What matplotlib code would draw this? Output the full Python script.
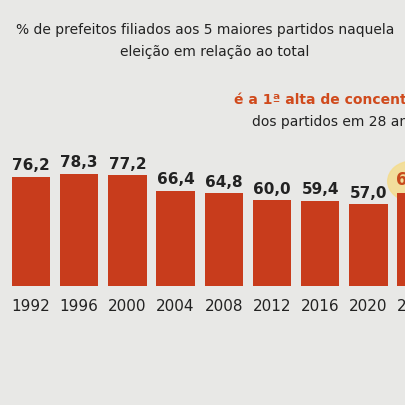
import matplotlib.pyplot as plt
from matplotlib.patches import Ellipse

years = ["1992", "1996", "2000", "2004", "2008", "2012", "2016", "2020", "2024"]
values = [76.2, 78.3, 77.2, 66.4, 64.8, 60.0, 59.4, 57.0, 65.0]
labels = ["76,2", "78,3", "77,2", "66,4", "64,8", "60,0", "59,4", "57,0", "65,0"]

bar_color = "#c83c1c"
bg = "#e8e8e6"

fig = plt.figure(figsize=(4.06, 4.06), dpi=100, facecolor=bg)
ax = fig.add_axes([0, 0.293, 1, 0.707])
ax.set_facecolor(bg)
x = list(range(len(years)))
ax.bar(x, values, width=0.8, color=bar_color, zorder=2)
ax.set_xlim(-0.643, 7.78)
ax.set_ylim(0, 200)
ax.axis("off")

for i, (v, lab) in enumerate(zip(values, labels)):
    if i == len(values) - 1:
        ax.add_patch(Ellipse((i - 0.1, v + 8), 1.0, 28, color="#f5dc8a", alpha=0.8, zorder=1))
        ax.text(i, v + 3, lab, ha="center", va="bottom", fontsize=12, fontweight="bold", color="#c84a1c", zorder=3)
    else:
        ax.text(i, v + 3, lab, ha="center", va="bottom", fontsize=11, fontweight="bold", color="#222222", zorder=3)
    ax.text(i, -8, years[i], ha="center", va="top", fontsize=11, color="#222222", clip_on=False)

fig.text(16 / 406, 1 - 30 / 406, "% de prefeitos filiados aos 5 maiores partidos naquela",
         ha="left", va="center", fontsize=10, color="#222222")
fig.text(120 / 406, 1 - 52 / 406, "eleição em relação ao total",
         ha="left", va="center", fontsize=10, color="#222222")
fig.text(234 / 406, 1 - 100 / 406, "é a 1ª alta de concentração",
         ha="left", va="center", fontsize=10, fontweight="bold", color="#d04a1c")
fig.text(252 / 406, 1 - 122 / 406, "dos partidos em 28 anos",
         ha="left", va="center", fontsize=10, color="#222222")

fig.savefig("out.png", dpi=100, facecolor=bg)
